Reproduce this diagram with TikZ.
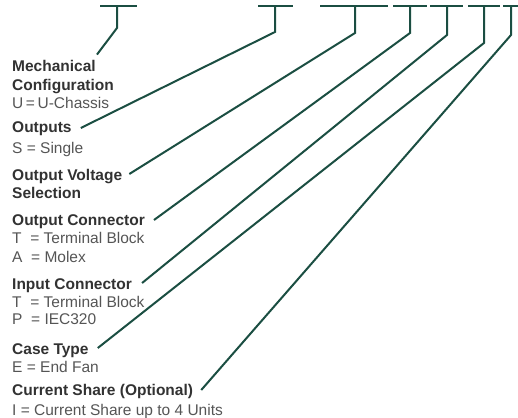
\documentclass[tikz,border=0pt]{standalone}
\usepackage{fontspec}
\setmainfont{Liberation Sans}
\definecolor{leadgreen}{RGB}{27,78,66}
\definecolor{headgray}{RGB}{50,50,50}
\definecolor{bodygray}{RGB}{85,85,85}

\begin{document}
\begin{tikzpicture}[x=1pt, y=-1pt,
    head/.style={anchor=base west, inner sep=0pt, text=headgray,
        font=\bfseries\fontsize{15.5}{18.5}\selectfont},
    body/.style={anchor=base west, inner sep=0pt, text=bodygray,
        font=\fontsize{15.5}{18.5}\selectfont},
    bar/.style={leadgreen, line width=2.8pt},
    leader/.style={leadgreen, line width=2pt}]
    \useasboundingbox (0,0) rectangle (518,417);
    % code bars
    \draw[bar](100,6)--(137,6);
    \draw[bar](258,6)--(293,6);
    \draw[bar](320,6)--(388,6);
    \draw[bar](393,6)--(427,6);
    \draw[bar](430,6)--(463,6);
    \draw[bar](468,6)--(500,6);
    \draw[bar](503,6)--(518,6);
    \coordinate (mechbar) at (117,6);
    \coordinate (outbar) at (275,6);
    \coordinate (voltbar) at (355,6);
    \coordinate (oconbar) at (410,6);
    \coordinate (iconbar) at (447,6);
    \coordinate (casebar) at (484,6);
    \coordinate (sharebar) at (511,6);
    % legend
    \node[head] (mech) at (12,72) {Mechanical};
    \node[head] (mechcfg) at (12,91) {Configuration};
    \node[body] (mechU) at (12,108) {U\,=\,U-Chassis};
    \node[head] (outp) at (12,132) {Outputs};
    \node[body] (outpS) at (12,153) {S = Single};
    \node[head] (volt) at (12,180) {Output Voltage};
    \node[head] (voltsel) at (12,198) {Selection};
    \node[head] (ocon) at (12,225) {Output Connector};
    \node[body] (oconT) at (12,243) {T~ = Terminal Block};
    \node[body] (oconA) at (12,262) {A~ = Molex};
    \node[head] (icon) at (12,289) {Input Connector};
    \node[body] (iconT) at (12,307) {T~ = Terminal Block};
    \node[body] (iconP) at (12,324) {P~ = IEC320};
    \node[head] (case) at (12,354) {Case Type};
    \node[body] (caseE) at (12,372) {E = End Fan};
    \node[head] (share) at (12,395) {Current Share (Optional)};
    \node[body] (shareI) at (12,415) {I = Current Share up to 4 Units};
    % leaders
    \draw[leader](mechbar)--++(0,22)--([xshift=1pt,yshift=6pt]mech.north east);
    \draw[leader](outbar)--++(0,26)--([xshift=9pt,yshift=4pt]outp.base east);
    \draw[leader](voltbar)--++(0,27)--([xshift=7pt,yshift=6pt]volt.base east);
    \draw[leader](oconbar)--++(0,27)--([xshift=9pt,yshift=5pt]ocon.base east);
    \draw[leader](iconbar)--++(0,29)--([xshift=10pt,yshift=6pt]icon.base east);
    \draw[leader](casebar)--++(0,37)--([xshift=9pt,yshift=6pt]case.base east);
    \draw[leader](sharebar)--++(0,29)--([xshift=8pt,yshift=5pt]share.base east);
\end{tikzpicture}
\end{document}
